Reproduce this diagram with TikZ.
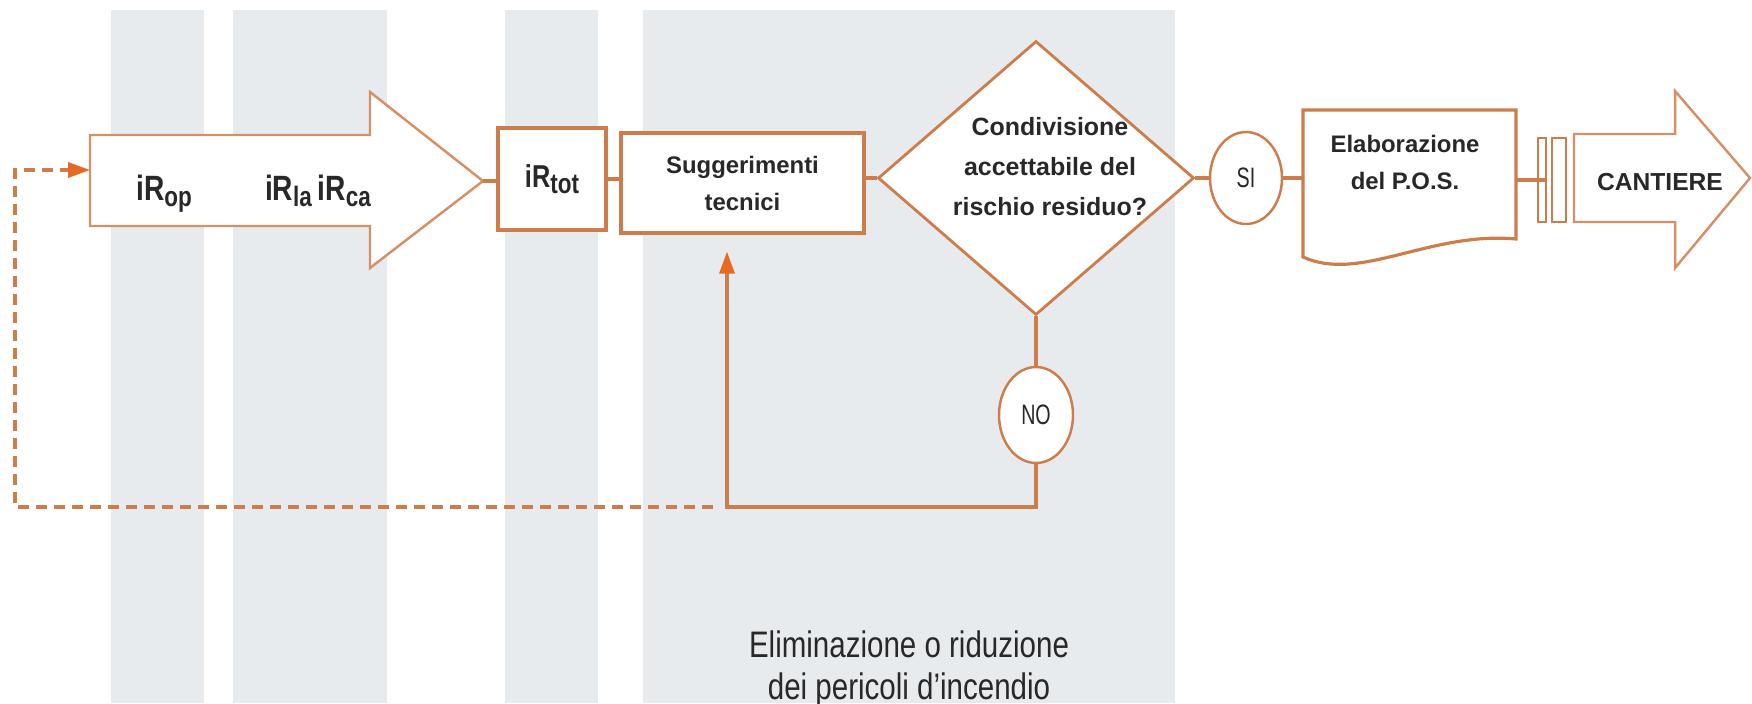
\documentclass[tikz,border=0pt]{standalone}
\usepackage{fontspec}
\setmainfont{Liberation Sans}
\newfontfamily\narrowfont[FakeStretch=0.8]{Liberation Sans}
\newfontfamily\thinfont[FakeStretch=0.7]{Liberation Sans}
\usepackage{tikz}
\usetikzlibrary{arrows.meta,positioning,calc,shapes}

\definecolor{edgeorange}{RGB}{205,125,75}
\definecolor{tiporange}{RGB}{232,105,35}
\definecolor{bandgray}{RGB}{232,235,238}
\definecolor{textgray}{RGB}{40,40,40}

\newcommand{\irlabel}[1]{iR\raisebox{-0.35ex}{\fontsize{8}{8}\selectfont #1}}

\begin{document}
\begin{tikzpicture}[>={Triangle[length=0.22cm,width=0.15cm,color=tiporange]},
  box/.style={draw=edgeorange, line width=0.9pt, fill=white, text=textgray,
    font=\bfseries\fontsize{6.8}{10.5}\selectfont, align=center, inner sep=0pt},
  link/.style={draw=edgeorange, line width=0.9pt},
  answer/.style={ellipse, draw=edgeorange, line width=0.7pt, fill=white,
    text=textgray, font=\thinfont\fontsize{8}{8}\selectfont, inner sep=0pt},
  bigarrow/.style={draw=edgeorange!85, line width=0.7pt, fill=white},
  irtext/.style={text=textgray, font=\narrowfont\bfseries\fontsize{10}{10}\selectfont,
    anchor=base, inner sep=0pt}]

  \useasboundingbox (0,0) rectangle (17.52,7.03);

  % grey bands behind the phases
  \foreach \xa/\xb in {1.11/2.04, 2.33/3.87, 5.05/5.98, 6.43/11.75} {
    \fill[bandgray] (\xa,0) rectangle (\xb,6.93);
  }

  % input arrow with the indices
  \draw[bigarrow] (0.90,5.68) -- (3.70,5.68) -- (3.70,6.11) -- (4.83,5.22)
    -- (3.70,4.35) -- (3.70,4.77) -- (0.90,4.77) -- cycle;
  \coordinate (intip) at (4.83,5.22);
  \coordinate (inback) at (0.90,5.33);
  \node[irtext] (op) at (1.64,5.03) {\irlabel{op}};
  \node[irtext] (laca) at (3.18,5.03) {\irlabel{la}\,\irlabel{ca}};

  % total index and suggestions
  \node[box, minimum width=1.08cm, minimum height=1.02cm,
    font=\narrowfont\bfseries\fontsize{9}{9}\selectfont] (tot) at (5.52,5.24)
    {\irlabel{tot}};
  \node[box, minimum width=2.43cm, minimum height=1.00cm] (sugg) at (7.425,5.20)
    {Suggerimenti\\tecnici};

  % decision
  \node[diamond, draw=edgeorange, line width=0.8pt, fill=white,
    minimum width=3.16cm, minimum height=2.74cm, inner sep=0pt] (dec) at (10.36,5.25) {};
  \node[text=textgray, font=\bfseries\fontsize{7.1}{11.4}\selectfont, align=center]
    (dectext) at (10.50,5.36) {Condivisione\\accettabile del\\rischio residuo?};

  \node[answer, minimum width=0.72cm, minimum height=0.92cm] (si) at (12.46,5.25) {SI};
  \node[answer, minimum width=0.74cm, minimum height=0.96cm] (no) at (10.36,2.88) {NO};

  % P.O.S. document
  \draw[box] (13.03,5.93) -- (15.16,5.93) -- (15.16,4.64)
    .. controls (14.3,4.72) and (13.6,4.20) .. (13.03,4.46) -- cycle;
  \coordinate (posin) at (13.03,5.25);
  \coordinate (posout) at (15.16,5.23);
  \node[text=textgray, font=\bfseries\fontsize{6.8}{10.5}\selectfont, align=center]
    (pos) at (14.05,5.41) {Elaborazione\\del P.O.S.};

  % site arrow
  \node[box, minimum width=0.08cm, minimum height=0.84cm, line width=0.6pt] (bara) at (15.42,5.23) {};
  \node[box, minimum width=0.14cm, minimum height=0.84cm, line width=0.6pt] (barb) at (15.59,5.23) {};
  \draw[bigarrow] (15.74,5.69) -- (16.75,5.69) -- (16.75,6.12) -- (17.50,5.25)
    -- (16.75,4.35) -- (16.75,4.81) -- (15.74,4.81) -- cycle;
  \node[text=textgray, font=\bfseries\fontsize{7}{7}\selectfont] (cant) at (16.60,5.21) {CANTIERE};

  % connectors
  \draw[link] (intip) -- (intip -| tot.west);
  \draw[link] (tot.east) -- (tot.east -| sugg.west);
  \draw[link] (dec.west) -- (dec.west -| sugg.east);
  \draw[link] (dec.east) -- (si.west);
  \draw[link] (si.east) -- (posin);
  \draw[link] (posout) -- (bara.east);
  \draw[link] (dec.south) -- (no.north);

  % loop back
  \coordinate (turn) at (7.27,1.96);
  \coordinate (dashstart) at (7.13,1.96);
  \draw[link,->,shorten >=0.17cm] (no.south) |- (turn) -- (turn |- sugg.south);
  \draw[link,line width=1pt,dash pattern=on 0.11cm off 0.07cm,->]
    (dashstart) -- (0.15,1.96) |- (inback);

  \node[text=textgray, font=\narrowfont\fontsize{10.5}{12}\selectfont, align=center]
    (caption) at (9.09,0.34) {Eliminazione o riduzione\\dei pericoli d’incendio};

\end{tikzpicture}
\end{document}
